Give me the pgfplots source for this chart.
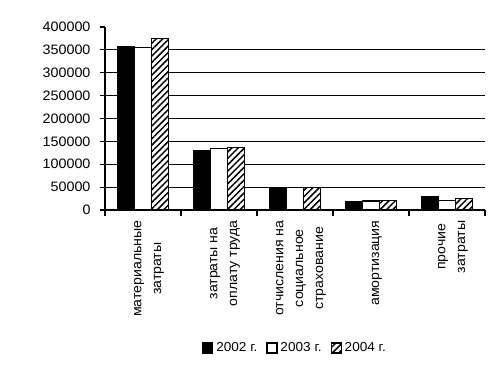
\documentclass[border=0pt]{standalone}
\usepackage{fontspec}
\setmainfont{Liberation Sans}[FakeStretch=1.05]
\usepackage{pgfplots}
\pgfplotsset{compat=1.18}
\usetikzlibrary{patterns.meta}
\begin{document}
\begin{tikzpicture}
\begin{axis}[
  scale only axis, width=380bp, height=183bp,
  at={(0,0)}, anchor=south west,
  ybar=0pt, bar width=17bp,
  xmin=-0.5, xmax=4.5, ymin=0, ymax=400000,
  axis x line*=bottom, axis y line*=left,
  axis line style={line width=1.1bp, -},
  ytick={0,50000,...,350000}, extra y ticks={400000}, extra y tick style={grid=none},
  ymajorgrids, grid style={black, line width=0.9bp},
  xtick={0,...,4},
  xticklabels={материальные\\затраты, затраты на\\оплату труда, отчисления на\\социальное\\страхование, амортизация, прочие\\затраты},
  minor xtick={-0.5,0.5,...,4.5},
  major x tick style={draw=none},
  minor x tick style={black, line width=1.1bp},
  y tick style={black, line width=1.1bp},
  major tick length=5bp, minor tick length=6bp,
  tick align=outside,
  scaled y ticks=false,
  yticklabel={\pgfmathprintnumber[fixed,1000 sep={},assume math mode=true]{\tick}},
  yticklabel style={font=\fontsize{13.7}{15}\selectfont, xshift=-6bp},
  xticklabel style={rotate=90, anchor=east, align=center, yshift=-6bp, xshift=-2bp, font=\fontsize{13.5}{20}\selectfont},
  legend style={at={(0.5,-0.754)}, anchor=center, draw=none, font=\fontsize{13}{15}\selectfont,
    /tikz/every odd column/.append style={column sep=1bp},
    /tikz/every even column/.append style={column sep=7bp}},
  legend columns=3,
  legend image code/.code={\draw[#1] (0bp,-5bp) rectangle (10bp,5bp);},
  axis on top=false,
]
\addplot[fill=black, draw=black, line width=1.1bp] coordinates {(0,358000) (1,129000) (2,48000) (3,17500) (4,29000)};
\addplot[fill=white, draw=black, line width=1.1bp] coordinates {(0,355000) (1,135000) (2,50000) (3,19700) (4,21500)};
\addplot[fill=white, draw=black, line width=1.1bp, postaction={pattern={Lines[angle=45,distance=4.5bp,line width=1.5bp]}}] coordinates {(0,375000) (1,137000) (2,50000) (3,21500) (4,26000)};
\legend{2002 г., 2003 г., 2004 г.}
\node[anchor=south west, font=\fontsize{10.3}{11}\selectfont, inner sep=0pt] at ([xshift=-9bp,yshift=9bp]rel axis cs:0,1) {рублей};
\end{axis}
\pgfresetboundingbox
\path (-105bp,-157bp) rectangle (396bp,210bp);
\end{tikzpicture}
\end{document}
